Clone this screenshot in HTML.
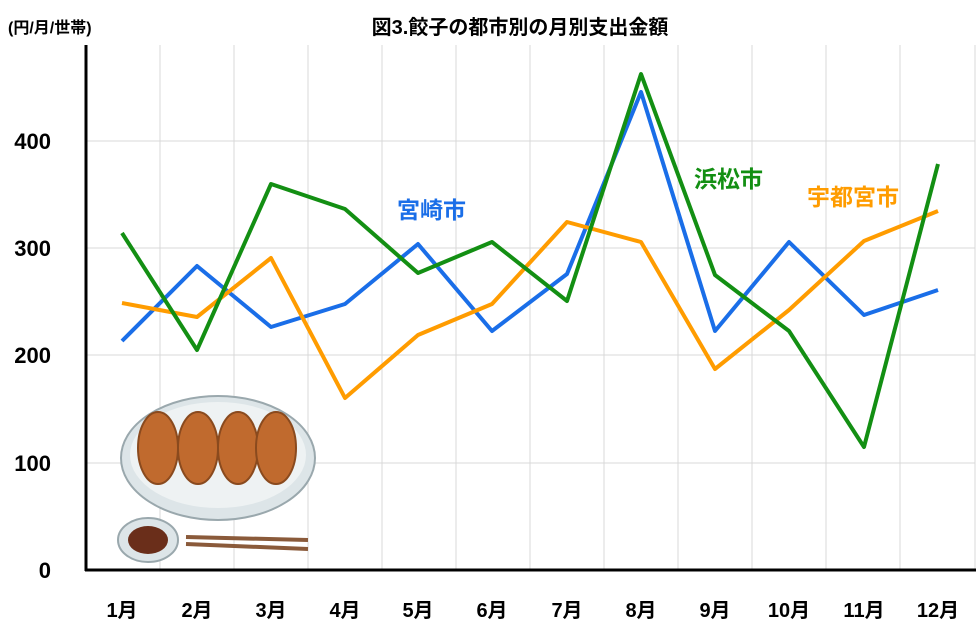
<!DOCTYPE html>
<html><head><meta charset="utf-8"><style>
body{margin:0;background:#fff;width:978px;height:637px;overflow:hidden;font-family:"Liberation Sans","Noto Sans CJK JP",sans-serif}
</style></head><body>
<svg width="978" height="637" xmlns="http://www.w3.org/2000/svg" font-family="Liberation Sans, Noto Sans CJK JP, sans-serif">
<rect width="978" height="637" fill="#fff"/>
<g stroke="#d9d9d9" stroke-width="1">
<line x1="86" y1="463" x2="975" y2="463"/><line x1="86" y1="355" x2="975" y2="355"/><line x1="86" y1="248" x2="975" y2="248"/><line x1="86" y1="141" x2="975" y2="141"/>
<line x1="160" y1="45" x2="160" y2="570"/><line x1="234" y1="45" x2="234" y2="570"/><line x1="308" y1="45" x2="308" y2="570"/><line x1="382" y1="45" x2="382" y2="570"/><line x1="456" y1="45" x2="456" y2="570"/><line x1="530" y1="45" x2="530" y2="570"/><line x1="604" y1="45" x2="604" y2="570"/><line x1="678" y1="45" x2="678" y2="570"/><line x1="752" y1="45" x2="752" y2="570"/><line x1="826" y1="45" x2="826" y2="570"/><line x1="900" y1="45" x2="900" y2="570"/><line x1="975" y1="45" x2="975" y2="570"/>
</g>
<line x1="86" y1="45" x2="86" y2="571" stroke="#000" stroke-width="3"/>
<line x1="85" y1="570" x2="976" y2="570" stroke="#000" stroke-width="3"/>
<g font-size="22" font-weight="bold" text-anchor="end" fill="#000">
<text x="51" y="578">0</text><text x="51" y="471">100</text><text x="51" y="363">200</text><text x="51" y="256">300</text><text x="51" y="149">400</text>
</g>
<text x="8" y="33" font-size="16" font-weight="bold">(円/月/世帯)</text>
<text x="520" y="34" font-size="20" font-weight="bold" text-anchor="middle">図3.餃子の都市別の月別支出金額</text>
<g font-size="20" font-weight="bold" text-anchor="middle">
<text x="122" y="617">1月</text><text x="197" y="617">2月</text><text x="271" y="617">3月</text><text x="345" y="617">4月</text><text x="418" y="617">5月</text><text x="492" y="617">6月</text><text x="567" y="617">7月</text><text x="641" y="617">8月</text><text x="715" y="617">9月</text><text x="789" y="617">10月</text><text x="864" y="617">11月</text><text x="938" y="617">12月</text>
</g>
<g fill="none" stroke-width="4" stroke-linejoin="round">
<polyline stroke="#1a6ee8" points="122,341 197,266 271,327 345,304 418,244 492,331 567,274 641,92 715,331 789,242 864,315 938,290"/>
<polyline stroke="#ff9c00" points="122,303 197,317 271,258 345,398 418,335 492,304 567,222 641,242 715,369 789,310 864,241 938,211"/>
<polyline stroke="#138f13" points="122,233 197,350 271,184 345,209 418,273 492,242 567,301 641,74 715,275 789,331 864,447 938,164"/>
</g>
<g font-size="23" font-weight="bold">
<text x="397" y="218" fill="#1a6ee8">宮崎市</text>
<text x="694" y="187" fill="#138f13">浜松市</text>
<text x="807" y="205" fill="#ff9c00">宇都宮市</text>
</g>
<g>
<ellipse cx="218" cy="458" rx="97" ry="62" fill="#dde5e8" stroke="#9aa8ad" stroke-width="2"/>
<ellipse cx="218" cy="455" rx="88" ry="53" fill="#eef2f3"/>
<g fill="#c06a2e" stroke="#8a4a1e" stroke-width="2">
<ellipse cx="158" cy="448" rx="20" ry="36"/><ellipse cx="198" cy="448" rx="20" ry="36"/><ellipse cx="238" cy="448" rx="20" ry="36"/><ellipse cx="276" cy="448" rx="20" ry="36"/>
</g>
<ellipse cx="148" cy="540" rx="30" ry="22" fill="#dde5e8" stroke="#9aa8ad" stroke-width="2"/>
<ellipse cx="148" cy="540" rx="20" ry="14" fill="#6a2e1a"/>
<line x1="186" y1="537" x2="308" y2="540" stroke="#8a5a3a" stroke-width="4"/>
<line x1="186" y1="544" x2="308" y2="549" stroke="#8a5a3a" stroke-width="4"/>
</g>
</svg>
</body></html>
